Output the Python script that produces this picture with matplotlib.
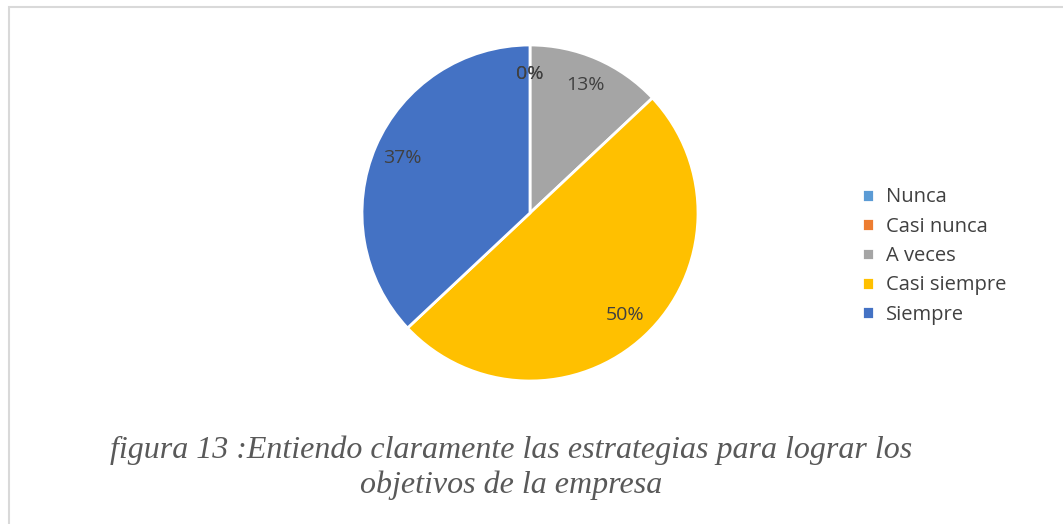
import matplotlib.pyplot as plt
from matplotlib.patches import Rectangle

# datos
categorias = ['Nunca', 'Casi nunca', 'A veces', 'Casi siempre', 'Siempre']
porcentajes = [0, 0, 13, 50, 37]
colores = ['#5B9BD5', '#ED7D31', '#A5A5A5', '#FFC000', '#4472C4']
titulo = 'figura 13 :Entiendo claramente las estrategias para lograr los\nobjetivos de la empresa'

fig = plt.figure(figsize=(10.63, 5.24), dpi=100)

# borde gris del grafico
fig.patches.append(Rectangle((9 / 1063, -0.1), 1.0, 1.1 - 7 / 524, transform=fig.transFigure,
                             fill=False, edgecolor='#D9D9D9', linewidth=1.5))

# pie: centro (530, 213), radio 168 px
ax = fig.add_axes([(530 - 168) / 1063, (524 - 213 - 168) / 524, 336 / 1063, 336 / 524])
wedges, texts, autotexts = ax.pie(
    porcentajes, colors=colores, startangle=90, counterclock=False,
    autopct='%1.0f%%', pctdistance=0.83,
    wedgeprops=dict(edgecolor='white', linewidth=2),
    textprops=dict(color='#404040', fontsize=14, family='Open Sans'))
ax.set_xlim(-1, 1)
ax.set_ylim(-1, 1)
ax.set_aspect('equal')

# leyenda
leg = fig.legend(wedges, categorias, loc='center left', bbox_to_anchor=(844 / 1063, 1 - 256 / 524),
                 frameon=False, handlelength=0.6, handleheight=0.6, handletextpad=0.6,
                 labelspacing=0.46, prop=dict(family='Open Sans', size=14.5))
for t in leg.get_texts():
    t.set_color('#404040')

fig.text(511 / 1063, 1 - 468 / 524, titulo, ha='center', va='center', fontsize=23,
         style='italic', family='Liberation Serif', color='#595959', linespacing=1.25)

fig.savefig('out.png', dpi=100)
